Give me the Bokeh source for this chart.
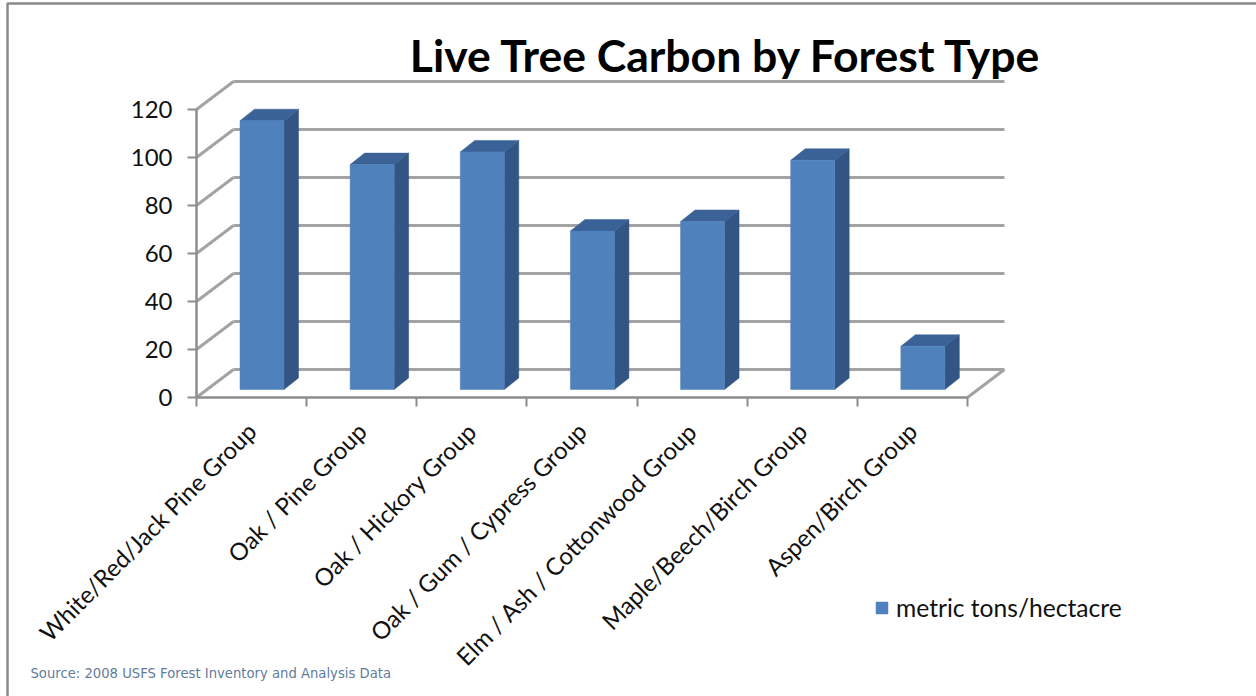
from bokeh.embed import file_html
from bokeh.resources import INLINE
from bokeh.plotting import figure
from bokeh.models import (Range1d, FixedTicker, Label, Legend, LegendItem,
                          BoxAnnotation, ColumnDataSource)

categories = ["White/Red/Jack Pine Group", "Oak / Pine Group", "Oak / Hickory Group",
              "Oak / Gum / Cypress Group", "Elm / Ash / Cottonwood Group",
              "Maple/Beech/Birch Group", "Aspen/Birch Group"]
values = [112, 93.7, 99, 66, 70, 95.5, 18]
y_ticks = [0, 20, 40, 60, 80, 100, 120]
series_name = "metric tons/hectacre"
title_text = "Live Tree Carbon by Forest Type"
source_text = "Source: 2008 USFS Forest Inventory and Analysis Data"

W, H = 1256, 696
X0, Y0 = 196, 397      # pixel position of the axes' origin
PX, PY = 110.14, 2.4   # pixels per category, pixels per unit value
WALL_DX, WALL_DY = 37 / PX, 28 / PY
BAR_DX, BAR_DY = 14.5 / PX, 11.5 / PY
BAR_LEFT, BAR_W, BAR_BASE = 43.5 / PX, 44 / PX, 8 / PY

FRONT, TOP, SIDE = "#4f81bd", "#3a6296", "#325583"
AXIS, GRID = "#8c8c8c", "#a3a3a3"
FONT = "Lato"
n = len(categories)

p = figure(width=W, height=H, output_backend="svg", toolbar_location=None,
           x_range=Range1d(-X0 / PX, (W - X0) / PX),
           y_range=Range1d(-(H - Y0) / PY, Y0 / PY),
           min_border=0, outline_line_color=None, tools="")
p.styles = {"position": "absolute", "left": "0px", "top": "0px"}
p.grid.visible = False

# page frame (screen y counts from the bottom of the canvas)
p.add_layout(BoxAnnotation(left=7, top=H - 3, right=W + 20, bottom=-20,
                           left_units="screen", top_units="screen",
                           right_units="screen", bottom_units="screen",
                           fill_color=None, line_color="#8a8a8a", line_alpha=1, line_width=2.5))

# walls
p.segment(x0=[WALL_DX] * len(y_ticks), x1=[n + WALL_DX] * len(y_ticks),
          y0=[v + WALL_DY for v in y_ticks], y1=[v + WALL_DY for v in y_ticks],
          line_color=GRID, line_width=3)
p.segment(x0=[0] * len(y_ticks), x1=[WALL_DX] * len(y_ticks),
          y0=y_ticks, y1=[v + WALL_DY for v in y_ticks],
          line_color=GRID, line_width=3)
p.segment(x0=[n], x1=[n + WALL_DX], y0=[0], y1=[WALL_DY],
          line_color=GRID, line_width=3)

# bars
left = [i + BAR_LEFT for i in range(n)]
right = [l + BAR_W for l in left]
top = [v + BAR_BASE for v in values]
bottom = [BAR_BASE] * n
p.patches(xs=[[r, r + BAR_DX, r + BAR_DX, r] for r in right],
          ys=[[b, b + BAR_DY, t + BAR_DY, t] for b, t in zip(bottom, top)],
          fill_color=SIDE, line_color=SIDE, line_width=0.5)
p.patches(xs=[[l, l + BAR_DX, r + BAR_DX, r] for l, r in zip(left, right)],
          ys=[[t, t + BAR_DY, t + BAR_DY, t] for t in top],
          fill_color=TOP, line_color=TOP, line_width=0.5)
bars = p.quad(source=ColumnDataSource(dict(left=left, right=right, top=top, bottom=bottom)),
              left="left", right="right", top="top", bottom="bottom",
              fill_color=FRONT, line_color=FRONT, line_width=0.5)

# axes
ya = p.yaxis[0]
ya.fixed_location = 0
ya.bounds = (0, 120)
ya.ticker = FixedTicker(ticks=y_ticks)
ya.axis_line_color = AXIS
ya.axis_line_width = 2.5
ya.major_tick_line_color = AXIS
ya.major_tick_line_width = 2
ya.major_tick_out = 9
ya.major_tick_in = 0
ya.minor_tick_line_color = None
ya.major_label_text_font = FONT
ya.major_label_text_font_size = "24px"
ya.major_label_text_color = "#111111"
ya.major_label_standoff = 15

xa = p.xaxis[0]
xa.fixed_location = 0
xa.bounds = (0, n)
xa.ticker = FixedTicker(ticks=[i + 0.5 for i in range(n)], minor_ticks=list(range(n + 1)))
xa.major_label_overrides = {i + 0.5: c for i, c in enumerate(categories)}
xa.major_label_orientation = 0.79
xa.axis_line_color = AXIS
xa.axis_line_width = 2.5
xa.major_tick_line_color = None
xa.minor_tick_line_color = AXIS
xa.minor_tick_line_width = 2
xa.minor_tick_out = 9
xa.minor_tick_in = 0
xa.major_label_text_font = FONT
xa.major_label_text_font_size = "24px"
xa.major_label_text_color = "#111111"
xa.major_label_standoff = 20

# texts (screen y counts from the bottom of the canvas)
p.add_layout(Label(x=726, y=H - 54, x_units="screen", y_units="screen", text=title_text,
                   text_font=FONT, text_font_style="bold", text_font_size="44.5px",
                   text_align="center", text_baseline="middle", text_color="#000000"))
p.add_layout(Label(x=30, y=H - 673, x_units="screen", y_units="screen", text=source_text,
                   text_font="DejaVu Sans", text_font_size="13.2px",
                   text_align="left", text_baseline="middle", text_color="#5f7c9c"))

# legend
legend = Legend(items=[LegendItem(label=series_name, renderers=[bars])],
                location=(874, H - 622), orientation="vertical",
                border_line_color=None, background_fill_alpha=0,
                padding=0, margin=0, spacing=0,
                glyph_width=15, glyph_height=15, label_standoff=7,
                label_text_font=FONT, label_text_font_size="24.6px",
                label_text_color="#111111", label_height=15)
p.add_layout(legend)

open("out.html", "w").write(file_html(p, INLINE))
